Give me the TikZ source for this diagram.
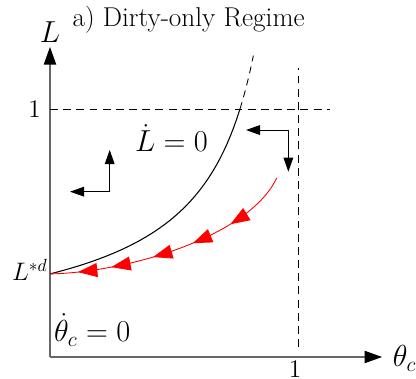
\documentclass[tikz,border=0pt]{standalone}
\usetikzlibrary{arrows.meta,decorations.markings}

\begin{document}
\begin{tikzpicture}[scale=4.96,line width=0.6pt,>={Triangle[length=8pt,width=5.5pt]},
    axis/.style={black!60,-{Triangle[length=10pt,width=7pt,color=black]}},
    guide/.style={dash pattern=on 4.5pt off 3pt,line width=0.5pt},
    flow/.style={red,line width=0.5pt,postaction={decorate},
        decoration={markings,
            mark=at position 0.26 with {\arrow{Triangle[length=11pt,width=8pt]}},
            mark=at position 0.425 with {\arrow{Triangle[length=11pt,width=8pt]}},
            mark=at position 0.59 with {\arrow{Triangle[length=11pt,width=8pt]}},
            mark=at position 0.758 with {\arrow{Triangle[length=11pt,width=8pt]}},
            mark=at position 0.89 with {\arrow{Triangle[length=11pt,width=8pt]}}}}]

    \useasboundingbox (-0.2016,-0.0887) rectangle (1.4758,1.4395);

    % AXES
    \coordinate (O) at (0,0);
    \coordinate (ytip) at (0,1.25);
    \coordinate (xtip) at (1.339,0);
    \draw[axis] (O) to (ytip);
    \draw[axis] (O) to (xtip);

    \node (Llab) at (0,1.31) {\LARGE $L$};
    \node (thlab) at (1.43,-0.005) {\LARGE $\theta_c$};
    \node (title) [anchor=west] at (0.065,1.36) {\fontsize{15.5}{18}\selectfont a) Dirty-only Regime};
    \node (oneL) at (-0.062,1.0) {\Large $1$};
    \node (oneth) [inner sep=0.5pt] at (0.988,-0.05) {\Large $1$};
    \node (Lstar) [anchor=east,inner sep=1pt] at (0,0.351) {\Large $L^{*d}$};

    % GUIDES at 1
    \coordinate (h1) at (0,1);
    \coordinate (h2) at (1.129,1);
    \coordinate (v1) at (1,0.04);
    \coordinate (v2) at (1,1.165);
    \draw[guide] (h1) to (h2);
    \draw[guide] (v1) to (v2);

    % LDOT = 0 LOCUS
    \draw plot[domain=0:0.766,samples=60] (\x,{0.335*exp(-0.753*ln(1-\x))});
    \draw[guide,dash pattern=on 4pt off 3pt] plot[domain=0.766:0.82,samples=10] (\x,{0.335*exp(-0.753*ln(1-\x))});
    \node (Ldot) at (0.49,0.883) {\LARGE $\dot{L}=0$};
    \node (thdot) at (0.17,0.109) {\LARGE $\dot{\theta}_c=0$};

    % SADDLE PATH
    \coordinate (s1) at (0.914,0.722);
    \coordinate (Ls) at (0,0.335);
    \draw[flow] (s1) .. controls (0.8,0.48) and (0.3,0.34) .. (Ls);

    % DIRECTIONS
    \begin{scope}
        \coordinate (c1) at (0.2407,0.6665);
        \coordinate (u1) at (0.2407,0.8347);
        \coordinate (l1) at (0.0806,0.6665);
        \draw[->] (c1) to (u1);
        \draw[->] (c1) to (l1);
    \end{scope}

    \begin{scope}
        \coordinate (c2) at (0.961,0.915);
        \coordinate (l2) at (0.79,0.915);
        \coordinate (d2) at (0.961,0.747);
        \draw[->] (c2) to (l2);
        \draw[->] (c2) to (d2);
    \end{scope}

\end{tikzpicture}
\end{document}
